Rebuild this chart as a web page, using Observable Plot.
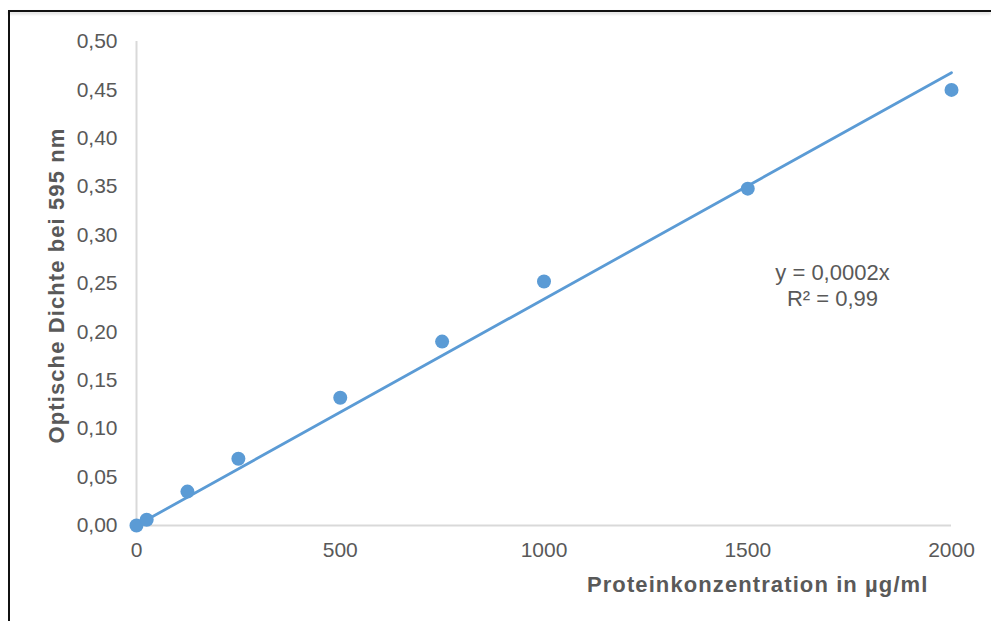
<!DOCTYPE html>
<html>
<head>
<meta charset="utf-8">
<script src="https://cdn.jsdelivr.net/npm/d3@7"></script>
<script src="https://cdn.jsdelivr.net/npm/@observablehq/plot@0.6"></script>
<style>
  html, body { margin: 0; padding: 0; background: #fff; }
  #wrap { position: relative; width: 991px; height: 621px; overflow: hidden; }
  #topline { position: absolute; left: 8px; top: 10px; width: 983px; height: 2px; background: #111; box-shadow: 0 2px 3px rgba(0,0,0,0.18); }
  #leftline { position: absolute; left: 8px; top: 10px; width: 2px; height: 611px; background: #111; }
  #chart { position: absolute; left: 0; top: 0; }
</style>
</head>
<body>
<div id="wrap">
  <div id="chart"></div>
  <div id="topline"></div>
  <div id="leftline"></div>
</div>
<script>
// Data
const concentrations = [0, 25, 125, 250, 500, 750, 1000, 1500, 2000];
const densities = [0.000, 0.006, 0.035, 0.069, 0.132, 0.190, 0.252, 0.348, 0.450];
const xTicks = [0, 500, 1000, 1500, 2000];
const yTicks = [0, 0.05, 0.10, 0.15, 0.20, 0.25, 0.30, 0.35, 0.40, 0.45, 0.50];
const xTitle = "Proteinkonzentration in µg/ml";
const yTitle = "Optische Dichte bei 595 nm";
const equationLines = ["y = 0,0002x", "R² = 0,99"];

const points = concentrations.map((c, i) => ({x: c, y: densities[i]}));

// Linear trendline through origin (least squares)
const sxy = d3.sum(points, d => d.x * d.y);
const sxx = d3.sum(points, d => d.x * d.x);
const slope = sxy / sxx;
const xExtent = d3.extent(concentrations);
const trend = xExtent.map(x => ({x, y: slope * x}));

const grey = "#595959";
const blue = "#5B9BD5";
const fontFamily = "Liberation Sans, Arial, Helvetica, sans-serif";

const fmtY = v => v.toFixed(2).replace(".", ",");
const fmtX = v => String(v);

const chart = Plot.plot({
  width: 991,
  height: 621,
  marginLeft: 136,
  marginRight: 40,
  marginTop: 41,
  marginBottom: 96,
  style: {fontFamily, fontSize: "21px", color: grey, background: "transparent"},
  x: {domain: [0, 2000], ticks: xTicks, label: null, tickSize: 0, tickPadding: 17, tickFormat: fmtX},
  y: {domain: [0, 0.5], ticks: yTicks, label: null, tickSize: 0, tickPadding: 19, tickFormat: fmtY},
  marks: [
    Plot.ruleY([0], {stroke: "#d9d9d9", strokeWidth: 2}),
    Plot.ruleX([0], {stroke: "#d9d9d9", strokeWidth: 2}),
    Plot.line(trend, {x: "x", y: "y", stroke: blue, strokeWidth: 2.8}),
    Plot.dot(points, {x: "x", y: "y", r: 7, fill: blue, stroke: "none"}),
    Plot.text([yTitle], {frameAnchor: "left", dx: -80, dy: 2, rotate: -90, textAnchor: "middle", fontWeight: "bold", fontSize: 22, fill: grey}),
    Plot.text([xTitle], {frameAnchor: "bottom-right", dx: -23, dy: 66, textAnchor: "end", fontWeight: "bold", fontSize: 22, fill: grey}),
    Plot.text([equationLines.join("\n")], {frameAnchor: "top-right", dx: -119, dy: 243, textAnchor: "middle", lineAnchor: "middle", lineHeight: 1.2, fontSize: 22, fill: grey})
  ]
});
// widen the bold titles to match the reference's wider bold face
d3.select(chart).selectAll("text")
  .filter(function() { return this.textContent === xTitle || this.textContent === yTitle; })
  .style("letter-spacing", "1.1px");
document.getElementById("chart").append(chart);
</script>
</body>
</html>
